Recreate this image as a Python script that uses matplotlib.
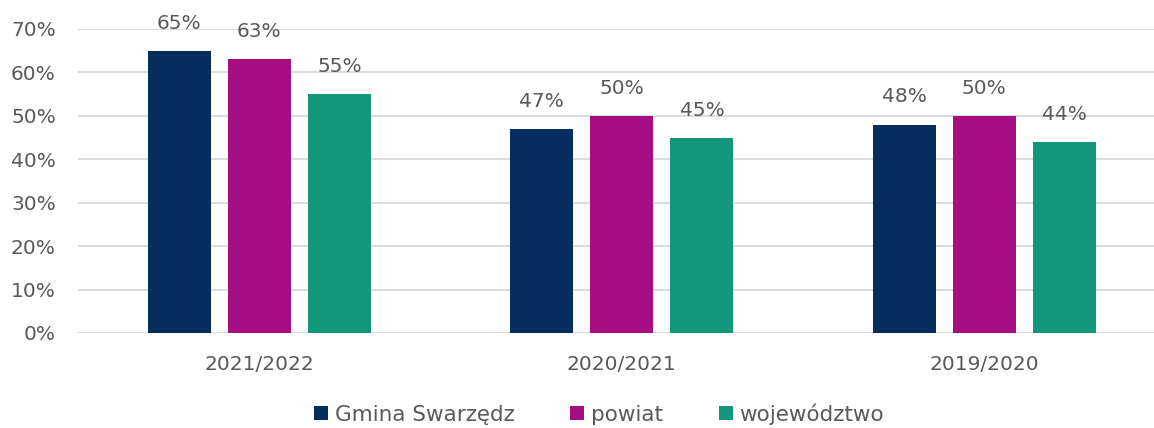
import numpy as np
from matplotlib import pyplot as plt
from matplotlib.ticker import PercentFormatter

# chart data
years = ['2021/2022', '2020/2021', '2019/2020']
series_names = ['Gmina Swarzędz', 'powiat', 'województwo']
gmina = [65, 47, 48]
powiat = [63, 50, 50]
wojewodztwo = [55, 45, 44]
labels_gmina = ['65%', '47%', '48%']
labels_powiat = ['63%', '50%', '50%']
labels_woj = ['55%', '45%', '44%']

colors = ['#052E5F', '#A50E82', '#14967B']
txt = '#595959'

plt.rcParams['font.family'] = ['DejaVu Sans']

fig = plt.figure(figsize=(11.54, 4.28), dpi=100)
ax = fig.add_axes([78/1154, 1-333/428, 1076/1154, 304/428])

x = np.arange(len(years))
width = 0.174
step = 0.221

all_series = [gmina, powiat, wojewodztwo]
all_labels = [labels_gmina, labels_powiat, labels_woj]
for i, (vals, labs) in enumerate(zip(all_series, all_labels)):
    pos = x + (i - 1) * step
    bars = ax.bar(pos, vals, width, color=colors[i], label=series_names[i], zorder=3)
    for b, lab in zip(bars, labs):
        ax.annotate(lab, (b.get_x() + b.get_width()/2, b.get_height()),
                    xytext=(0, 13), textcoords='offset points',
                    ha='center', va='bottom', fontsize=14.5, color=txt)

ax.set_ylim(0, 70)
ax.set_yticks(range(0, 71, 10))
ax.yaxis.set_major_formatter(PercentFormatter(decimals=0))
ax.set_xlim(-0.5, 2.468)
ax.set_xticks(x)
ax.set_xticklabels(years)
ax.tick_params(axis='both', length=0, labelsize=14.5, labelcolor=txt)
ax.tick_params(axis='x', pad=16)
ax.tick_params(axis='y', pad=16)
ax.grid(axis='y', color='#D9D9D9', linewidth=1.3, zorder=0)
for s in ax.spines.values():
    s.set_visible(False)

leg = fig.legend(loc='center', bbox_to_anchor=(599/1154, 1-414/428), ncol=3,
                 frameon=False, fontsize=15.5, handlelength=0.65, handleheight=0.65,
                 handletextpad=0.3, columnspacing=2.6)
for t in leg.get_texts():
    t.set_color(txt)

fig.savefig('out.png', dpi=100)
